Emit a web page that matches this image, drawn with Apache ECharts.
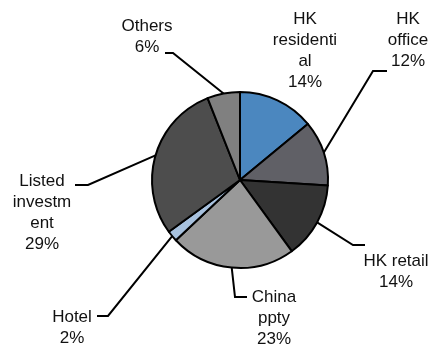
<!DOCTYPE html>
<html>
<head>
<meta charset="utf-8">
<title>Portfolio mix</title>
<script src="https://cdn.jsdelivr.net/npm/echarts@6/dist/echarts.min.js"></script>
<style>
  html, body { margin: 0; padding: 0; background: #fff; }
  #chart1 { width: 433px; height: 345px; }
</style>
</head>
<body>
<div id="chart1"></div>
<script>
// data
var categories = ['HK residential', 'HK office', 'HK retail', 'China ppty', 'Hotel', 'Listed investment', 'Others'];
var labelNames = ['HK\nresidenti\nal', 'HK\noffice', 'HK retail', 'China\nppty', 'Hotel', 'Listed\ninvestm\nent', 'Others'];
var shares = [14, 12, 14, 23, 2, 29, 6];

// styles
var colors = ['#4B87BF', '#606066', '#333333', '#999999', '#A7C1DE', '#4D4D4D', '#808080'];
// label placement: [textX, textY, elbowX, elbowY, endX] (null elbow = no leader line)
var labelSpots = [
    [305, 51, null, null, null],
    [408, 40, 373, 71, 387],
    [396, 272, 353, 245, 365],
    [274, 318, 235, 297, 247],
    [72, 328, 108, 316, 97],
    [42, 213, 88, 185, 75],
    [147, 37, 173, 53, 165]
];

var pieCenter = [240, 180];
var pieRadius = 88;
var total = shares.reduce(function (a, b) { return a + b; }, 0);

function edgePoint(i) {
    var before = 0;
    for (var k = 0; k < i; k++) before += shares[k];
    var ang = (before + shares[i] / 2) / total * 2 * Math.PI;
    return [pieCenter[0] + pieRadius * Math.sin(ang), pieCenter[1] - pieRadius * Math.cos(ang)];
}

var myChart = echarts.init(document.getElementById('chart1'));

var option = {
    animation: false,
    series: [{
        type: 'pie',
        center: pieCenter,
        radius: pieRadius,
        startAngle: 90,
        clockwise: true,
        avoidLabelOverlap: false,
        emphasis: { disabled: true },
        itemStyle: { borderColor: '#000', borderWidth: 2 },
        label: {
            show: true,
            position: 'outside',
            fontFamily: 'Liberation Sans, Arial, sans-serif',
            fontSize: 17,
            lineHeight: 21,
            color: '#111',
            formatter: function (p) {
                return labelNames[p.dataIndex] + '\n' + p.value + '%';
            }
        },
        labelLine: {
            show: true,
            lineStyle: { color: '#000', width: 2 }
        },
        labelLayout: function (params) {
            var s = labelSpots[params.dataIndex];
            var out = { x: s[0], y: s[1], align: 'center', verticalAlign: 'middle' };
            if (s[2] != null) {
                var p0 = (params.labelLinePoints && params.labelLinePoints[0]) || edgePoint(params.dataIndex);
                out.labelLinePoints = [p0, [s[2], s[3]], [s[4], s[3]]];
            }
            return out;
        },
        data: categories.map(function (name, i) {
            var item = { name: name, value: shares[i], itemStyle: { color: colors[i] } };
            if (labelSpots[i][2] == null) item.labelLine = { show: false };
            return item;
        })
    }]
};

myChart.setOption(option);
</script>
</body>
</html>
